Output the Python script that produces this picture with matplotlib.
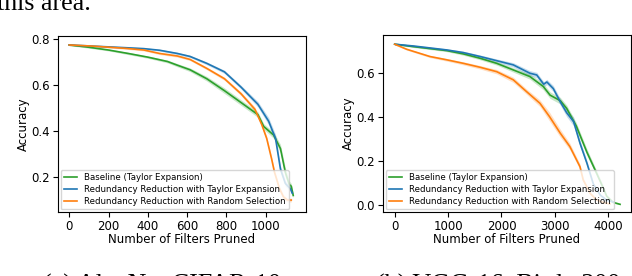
import matplotlib
matplotlib.use("Agg")
import matplotlib.pyplot as plt

# ---- (a) AlexNet CIFAR-10 ----
a_base_x = [0, 100, 200, 300, 400, 500, 550, 615, 700, 790, 875, 960, 990, 1040, 1075, 1100, 1120, 1130, 1140]
a_base_y = [0.775, 0.765, 0.753, 0.738, 0.722, 0.703, 0.687, 0.667, 0.628, 0.576, 0.524, 0.472, 0.420, 0.383, 0.324, 0.220, 0.168, 0.160, 0.120]
a_base_sd = [0.003, 0.004, 0.004, 0.005, 0.005, 0.006, 0.007, 0.008, 0.010, 0.012, 0.012, 0.012, 0.012, 0.014, 0.018, 0.020, 0.015, 0.012, 0.010]

a_tay_x = [0, 120, 290, 380, 460, 550, 615, 700, 790, 875, 960, 1015, 1050, 1075, 1100, 1125, 1135]
a_tay_y = [0.775, 0.770, 0.763, 0.759, 0.752, 0.738, 0.725, 0.695, 0.658, 0.591, 0.517, 0.443, 0.368, 0.235, 0.172, 0.150, 0.130]
a_tay_sd = [0.003, 0.003, 0.004, 0.004, 0.004, 0.005, 0.005, 0.006, 0.007, 0.008, 0.012, 0.016, 0.018, 0.015, 0.012, 0.010, 0.010]

a_rnd_x = [0, 120, 290, 380, 460, 550, 615, 700, 790, 875, 945, 980, 1005, 1030, 1045, 1070, 1090, 1110, 1130]
a_rnd_y = [0.775, 0.770, 0.760, 0.753, 0.738, 0.727, 0.712, 0.673, 0.628, 0.562, 0.495, 0.428, 0.368, 0.279, 0.220, 0.150, 0.114, 0.100, 0.100]
a_rnd_sd = [0.003, 0.003, 0.004, 0.004, 0.005, 0.005, 0.005, 0.006, 0.007, 0.008, 0.010, 0.010, 0.010, 0.010, 0.010, 0.010, 0.010, 0.008, 0.008]

# ---- (b) VGG-16, Birds-200 ----
b_base_x = [0, 350, 975, 1285, 1600, 1910, 2220, 2530, 2780, 2910, 3100, 3220, 3400, 3600, 3780, 3900, 3970, 4090, 4220]
b_base_y = [0.732, 0.721, 0.703, 0.688, 0.668, 0.645, 0.615, 0.585, 0.540, 0.500, 0.475, 0.440, 0.360, 0.240, 0.145, 0.080, 0.040, 0.012, 0.003]
b_base_sd = [0.003, 0.004, 0.005, 0.006, 0.007, 0.008, 0.010, 0.012, 0.015, 0.015, 0.015, 0.015, 0.015, 0.015, 0.012, 0.010, 0.006, 0.004, 0.002]

b_tay_x = [0, 350, 975, 1285, 1600, 1910, 2220, 2530, 2660, 2790, 2850, 2970, 3100, 3220, 3350, 3470, 3600, 3720, 3850, 3970, 4100]
b_tay_y = [0.732, 0.724, 0.706, 0.694, 0.676, 0.657, 0.638, 0.600, 0.592, 0.550, 0.560, 0.530, 0.470, 0.420, 0.380, 0.281, 0.190, 0.095, 0.045, 0.022, 0.013]
b_tay_sd = [0.003, 0.004, 0.005, 0.006, 0.007, 0.008, 0.010, 0.012, 0.012, 0.012, 0.012, 0.014, 0.015, 0.018, 0.020, 0.015, 0.012, 0.008, 0.005, 0.003, 0.002]

b_rnd_x = [0, 225, 660, 975, 1285, 1600, 1910, 2220, 2470, 2720, 2900, 3100, 3280, 3470, 3530, 3660, 3780, 3900, 4030]
b_rnd_y = [0.732, 0.709, 0.676, 0.661, 0.645, 0.627, 0.607, 0.570, 0.516, 0.463, 0.402, 0.327, 0.266, 0.174, 0.114, 0.053, 0.023, 0.012, 0.005]
b_rnd_sd = [0.003, 0.004, 0.005, 0.006, 0.007, 0.008, 0.010, 0.012, 0.012, 0.015, 0.020, 0.018, 0.015, 0.012, 0.010, 0.006, 0.004, 0.003, 0.002]

labels = ["Baseline (Taylor Expansion)",
          "Redundancy Reduction with Taylor Expansion",
          "Redundancy Reduction with Random Selection"]
colors = ["#2ca02c", "#1f77b4", "#ff7f0e"]

fig = plt.figure(figsize=(6.32, 2.76), dpi=100)
ax1 = fig.add_axes([58 / 632, 64 / 276, 248 / 632, 176 / 276])
ax2 = fig.add_axes([383 / 632, 64 / 276, 248 / 632, 177 / 276])


def draw(ax, series):
    for (x, y, sd), lab, c in zip(series, labels, colors):
        lo = [v - s for v, s in zip(y, sd)]
        hi = [v + s for v, s in zip(y, sd)]
        ax.fill_between(x, lo, hi, color=c, alpha=0.25, lw=0)
        ax.plot(x, y, color=c, lw=1.2, label=lab)
    ax.tick_params(labelsize=8.5, length=3.5, width=0.8, pad=2.5)
    ax.set_xlabel("Number of Filters Pruned", fontsize=8.5, labelpad=0)
    ax.set_ylabel("Accuracy", fontsize=8.5, labelpad=0.5)
    ax.legend(loc="lower left", fontsize=6.2, handlelength=1.6,
              borderaxespad=0.3, labelspacing=0.35, borderpad=0.35)


draw(ax1, [(a_base_x, a_base_y, a_base_sd), (a_tay_x, a_tay_y, a_tay_sd), (a_rnd_x, a_rnd_y, a_rnd_sd)])
ax1.set_xlim(-57, 1205)
ax1.set_ylim(0.048, 0.814)
ax1.set_xticks([0, 200, 400, 600, 800, 1000])
ax1.set_yticks([0.2, 0.4, 0.6, 0.8])

draw(ax2, [(b_base_x, b_base_y, b_base_sd), (b_tay_x, b_tay_y, b_tay_sd), (b_rnd_x, b_rnd_y, b_rnd_sd)])
ax2.set_xlim(-219, 4425)
ax2.set_ylim(-0.032, 0.774)
ax2.set_xticks([0, 1000, 2000, 3000, 4000])
ax2.set_yticks([0.0, 0.2, 0.4, 0.6])

# surrounding paper text (cut off by the crop)
serif = dict(family="Liberation Serif", fontsize=18.7, va="baseline")
fig.text(-0.005, (276 - 9.5) / 276, "this area.", ha="left", **serif)
fig.text(43 / 632, -0.055, "(a) AlexNet CIFAR-10", ha="left", **serif)
fig.text(376 / 632, -0.055, "(b) VGG-16, Birds-200", ha="left", **serif)

fig.savefig("out.png", dpi=100)
